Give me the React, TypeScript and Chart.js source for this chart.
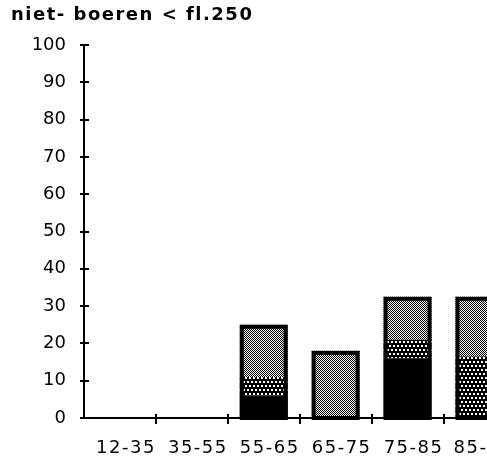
import React, { useEffect, useRef } from "react";
import { Chart, registerables } from "chart.js";

Chart.register(...registerables);

const titleText = "niet- boeren < fl.250";
const categories = ["12-35", "35-55", "55-65", "65-75", "75-85", "85-"];
const blackValues = [0, 0, 6, 0, 16, 0];
const dottedValues = [0, 0, 5, 0, 5, 16.5];
const grayValues = [0, 0, 14, 18, 11.5, 16];
const yMin = 0;
const yMax = 100;
const yStep = 10;

function makePattern(w: number, h: number, draw: (c: CanvasRenderingContext2D) => void) {
  const cv = document.createElement("canvas");
  cv.width = w;
  cv.height = h;
  const c = cv.getContext("2d")!;
  draw(c);
  return c.createPattern(cv, "repeat")!;
}

function withSpacing(obj: any, method: string, spacing: string) {
  if (!obj || obj["_ls_" + method]) return;
  const orig = obj[method].bind(obj);
  obj[method] = (...args: any[]) => {
    const ctx = obj.ctx || obj.chart?.ctx;
    ctx.save();
    (ctx as any).letterSpacing = spacing;
    orig(...args);
    ctx.restore();
  };
  obj["_ls_" + method] = true;
}

const outlinePlugin = {
  id: "stackOutline",
  afterDatasetsDraw(chart: any) {
    const ctx = chart.ctx;
    const n = chart.data.labels.length;
    for (let i = 0; i < n; i++) {
      let top = Infinity;
      let base = 0;
      let x = 0;
      let w = 0;
      chart.data.datasets.forEach((ds: any, di: number) => {
        const v = ds.data[i];
        const el = chart.getDatasetMeta(di).data[i];
        if (!el || !(v > 0)) return;
        const p = el.getProps(["x", "y", "base", "width"], true);
        top = Math.min(top, p.y);
        base = Math.max(base, p.base);
        x = p.x;
        w = p.width;
      });
      if (top === Infinity) continue;
      ctx.save();
      ctx.strokeStyle = "#000";
      ctx.lineWidth = 4;
      ctx.strokeRect(x - w / 2 + 2, top + 2, w - 4, base - top - 2);
      ctx.restore();
    }
  },
};

const crossTicksPlugin = {
  id: "crossTicks",
  beforeDraw(chart: any) {
    withSpacing(chart.titleBlock, "draw", "1.5px");
    withSpacing(chart.scales.x, "drawLabels", "1.5px");
  },
  afterDraw(chart: any) {
    const ctx = chart.ctx;
    const xs = chart.scales.x;
    const ys = chart.scales.y;
    const ax = chart.chartArea.left;
    const ay = chart.chartArea.bottom;
    ctx.save();
    ctx.strokeStyle = "#000";
    ctx.lineWidth = 2;
    ctx.beginPath();
    for (let v = yMin; v <= yMax; v += yStep) {
      const py = Math.round(ys.getPixelForValue(v));
      ctx.moveTo(ax - 4, py);
      ctx.lineTo(ax + 5, py);
    }
    for (let i = 1; i < categories.length; i++) {
      const px = Math.round(xs.getPixelForValue(i - 0.5));
      ctx.moveTo(px, ay - 4);
      ctx.lineTo(px, ay + 6);
    }
    ctx.stroke();
    ctx.restore();
  },
};

export default function App() {
  const ref = useRef<HTMLCanvasElement>(null);
  useEffect(() => {
    const grayPat = makePattern(2, 2, (c) => {
      c.fillStyle = "#fff";
      c.fillRect(0, 0, 2, 2);
      c.fillStyle = "#000";
      c.fillRect(0, 0, 1, 1);
      c.fillRect(1, 1, 1, 1);
    });
    const dotPat = makePattern(8, 8, (c) => {
      c.fillStyle = "#000";
      c.fillRect(0, 0, 8, 8);
      c.fillStyle = "#fff";
      c.fillRect(1, 1, 2, 2);
      c.fillRect(5, 1, 2, 2);
      c.fillRect(3, 5, 2, 2);
      c.fillRect(7, 5, 1, 2);
      c.fillRect(0, 5, 1, 2);
    });
    const font = { family: "'DejaVu Sans', sans-serif", size: 18 };
    const lastIdx = categories.length - 1;
    const chart = new Chart(ref.current!, {
      type: "bar",
      data: {
        labels: categories,
        datasets: [
          { label: "black", data: blackValues, backgroundColor: "#000", borderWidth: 0 },
          { label: "dotted", data: dottedValues, backgroundColor: dotPat as any, borderWidth: 0 },
          { label: "gray", data: grayValues, backgroundColor: grayPat as any, borderWidth: 0 },
        ],
      },
      options: {
        responsive: false,
        animation: false,
        devicePixelRatio: 1,
        categoryPercentage: 1,
        barPercentage: 0.667,
        layout: { padding: { left: 11, right: 4, top: 0, bottom: 0 } },
        plugins: {
          legend: { display: false },
          tooltip: { enabled: false },
          title: {
            display: true,
            text: titleText,
            align: "start",
            color: "#000",
            font: { family: "'DejaVu Sans', sans-serif", size: 18, weight: "bold" },
            padding: { top: 5, bottom: 18.4 },
          },
        },
        scales: {
          x: {
            stacked: true,
            grid: { display: false },
            border: { display: true, color: "#000", width: 2 },
            ticks: {
              color: "#000",
              font,
              padding: 12,
              labelOffset: 6,
              callback: (_v: any, i: number) =>
                i === lastIdx ? categories[i] + "\u2003\u2002" : categories[i],
            },
            afterFit: (s: any) => {
              s.height = 41;
            },
          },
          y: {
            stacked: true,
            min: yMin,
            max: yMax,
            grid: { display: false, drawTicks: false },
            border: { display: true, color: "#000", width: 2 },
            ticks: { stepSize: yStep, color: "#000", font, padding: 18 },
            afterFit: (s: any) => {
              s.width = 73;
            },
          },
        },
      },
      plugins: [outlinePlugin, crossTicksPlugin],
    });
    return () => chart.destroy();
  }, []);
  return (
    <div style={{ position: "fixed", left: 0, top: 0, width: 487, height: 459, overflow: "hidden", background: "#fff" }}>
      <canvas ref={ref} width={520} height={459} style={{ display: "block", width: 520, height: 459 }} />
    </div>
  );
}
